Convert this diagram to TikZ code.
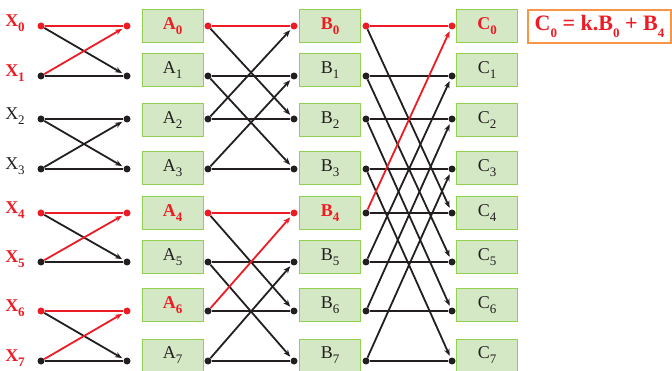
\documentclass[tikz,border=0pt]{standalone}
\usepackage{fontspec}
\setmainfont{Liberation Serif}
\usetikzlibrary{arrows.meta}
\definecolor{hotred}{RGB}{237,28,36}
\definecolor{inkcol}{RGB}{35,31,32}
\definecolor{cellcol}{RGB}{213,232,198}
\definecolor{cellborder}{RGB}{146,208,80}
\definecolor{eqborder}{RGB}{247,150,70}
\newcommand{\idx}[1]{\raisebox{-0.28em}{\fontsize{13}{15}\selectfont #1}}

\begin{document}
\fontsize{18}{21}\selectfont
\begin{tikzpicture}[
                        x=1pt, y=-1pt,
                        >={Stealth[length=7pt, width=5.5pt]},
                        hot/.style={color=hotred, font=\bfseries},
                        cold/.style={color=inkcol},
                        lbl/.style={inner sep=0pt},
                        cell/.style={
                                rectangle, draw=cellborder, fill=cellcol,
                                line width=1pt, inner sep=0pt,
                                minimum width=61pt, minimum height=33pt
                            },
                        dot/.style={circle, fill, inner sep=0pt, minimum size=7pt},
                        wire/.style={line width=1.8pt},
                        link/.style={wire, ->, shorten >=2pt},
                        eqbox/.style={
                                rectangle, draw=eqborder, line width=1.2pt,
                                text=hotred, font=\fontsize{22}{26}\selectfont\bfseries,
                                minimum width=143pt, minimum height=33pt, inner sep=1pt
                            }
                    ]

                    \useasboundingbox (0,0) rectangle (672,371);

                    % ===== Rows: labels, dots, cells and straight wires =====
                    \foreach \i/\dy/\by/\xs/\as/\bs/\cs in {
                            0/26/26.5/hot/hot/hot/hot,
                            1/76/70.5/hot/cold/cold/cold,
                            2/119/120/cold/cold/cold/cold,
                            3/169/168.5/cold/cold/cold/cold,
                            4/213/213/hot/hot/hot/cold,
                            5/262/257/hot/cold/cold/cold,
                            6/311/305.5/hot/hot/cold/cold,
                            7/361/355.5/hot/cold/cold/cold} {
                        \node[\xs, lbl] (xl\i) at (15,\dy-3) {X\idx{\i}};
                        \node[\as, dot] (x\i) at (41,\dy) {};
                        \node[\as, dot] (ai\i) at (127,\dy) {};
                        \node[\as, cell] (A\i) at (172.5,\by) {A\idx{\i}};
                        \node[\bs, dot] (ao\i) at (208,\dy) {};
                        \node[\bs, dot] (bi\i) at (294,\dy) {};
                        \node[\bs, cell] (B\i) at (330,\by) {B\idx{\i}};
                        \node[\cs, dot] (bo\i) at (366,\dy) {};
                        \node[\cs, dot] (ci\i) at (452,\dy) {};
                        \node[\cs, cell] (C\i) at (487,\by) {C\idx{\i}};

                        \draw[wire, \as] (x\i) -- (ai\i);
                        \draw[wire, \bs] (ao\i) -- (bi\i);
                        \draw[wire, \cs] (bo\i) -- (ci\i);
                    }

                    % ===== Stage 1 crossings =====
                    \foreach \a/\b/\up in {0/1/hot, 2/3/cold, 4/5/hot, 6/7/hot} {
                        \draw[link, cold] (x\a) -- (ai\b);
                        \draw[link, \up] (x\b) -- (ai\a);
                    }

                    % ===== Stage 2 crossings =====
                    \foreach \a/\b/\up in {0/2/cold, 1/3/cold, 5/7/cold, 4/6/hot} {
                        \draw[link, cold] (ao\a) -- (bi\b);
                        \draw[link, \up] (ao\b) -- (bi\a);
                    }

                    % ===== Stage 3 crossings =====
                    \foreach \a/\b/\up in {1/5/cold, 2/6/cold, 3/7/cold, 0/4/hot} {
                        \draw[link, cold] (bo\a) -- (ci\b);
                        \draw[link, \up] (bo\b) -- (ci\a);
                    }

                    % ===== Output formula =====
                    \node[eqbox] (eq) at (599.5,26.5) {C\idx{0} = k.B\idx{0} + B\idx{4}};

                \end{tikzpicture}
\end{document}
